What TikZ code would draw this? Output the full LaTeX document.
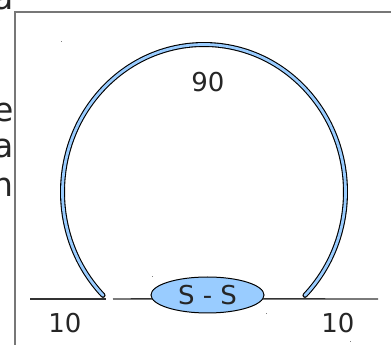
\documentclass[tikz,border=0pt]{standalone}
\usepackage{fontspec}
\setmainfont{DejaVu Sans}
\usetikzlibrary{shapes.geometric}
\definecolor{bandblue}{HTML}{99CCFF}
\definecolor{framegray}{HTML}{777777}
\definecolor{linegray}{HTML}{333333}
\tikzset{
  lbl/.style={inner sep=0pt, font=\fontsize{26}{30}\selectfont, text=black!85},
  frag/.style={inner sep=0pt, anchor=base east, text height=19pt, text depth=0pt, font=\fontsize{33}{38}\selectfont, text=black!85},
  baseline/.style={draw=linegray, line width=1.4pt},
  speck/.style={fill=black!50, draw=none},
}
\begin{document}
\begin{tikzpicture}[x=1pt,y=1pt]
\useasboundingbox (0,0) rectangle (391,345);
% frame
\coordinate (fb) at (15,0);
\coordinate (fc) at (15,333);
\coordinate (fr) at (391,333);
\draw[framegray, line width=1.4pt] (fb) -- (fc) -- (fr);
% clipped text fragments at the left edge
\node[frag] (ta) at (14,335) {a};
\node[frag] (te) at (14,223) {e};
\node[frag] (ta2) at (14,187) {a};
\node[frag] (tn) at (14,148) {n};
% arc band
\coordinate (arcstart) at ({204+141.5*cos(224.5)},{153+147.5*sin(224.5)});
\draw[black, line width=5pt, line cap=round] (arcstart) arc[start angle=224.5, end angle=-44.5, x radius=141.5, y radius=147.5];
\draw[bandblue, line width=2.8pt, line cap=round] (arcstart) arc[start angle=224.5, end angle=-44.5, x radius=141.5, y radius=147.5];
% ellipse
\node[ellipse, draw=black, fill=bandblue, line width=1pt, minimum width=113pt, minimum height=36pt, inner sep=0pt, font=\fontsize{26}{30}\selectfont, text=black!85] (ss) at (207.5,50) {S - S};
% baselines
\coordinate (a1) at (30,46);
\coordinate (a2) at (106,46);
\coordinate (b1) at (113,46);
\coordinate (c2) at (378,46);
\draw[baseline] (a1) -- (a2);
\draw[baseline] (b1) -- (ss.184);
\draw[baseline] (ss.-4) -- (c2);
% labels
\node[lbl] (l10a) at (65,22) {10};
\node[lbl] (l10b) at (338,22) {10};
\node[lbl] (l90) at (208,263) {90};
% specks
\fill[speck] (60.5,302.5) rectangle (61.5,303.5);
\fill[speck] (151.5,67.5) rectangle (152.5,68.5);
\fill[speck] (265.5,30.5) rectangle (266.5,31.5);
\fill[speck] (349.5,2.5) rectangle (350.5,3.5);
\end{tikzpicture}
\end{document}
